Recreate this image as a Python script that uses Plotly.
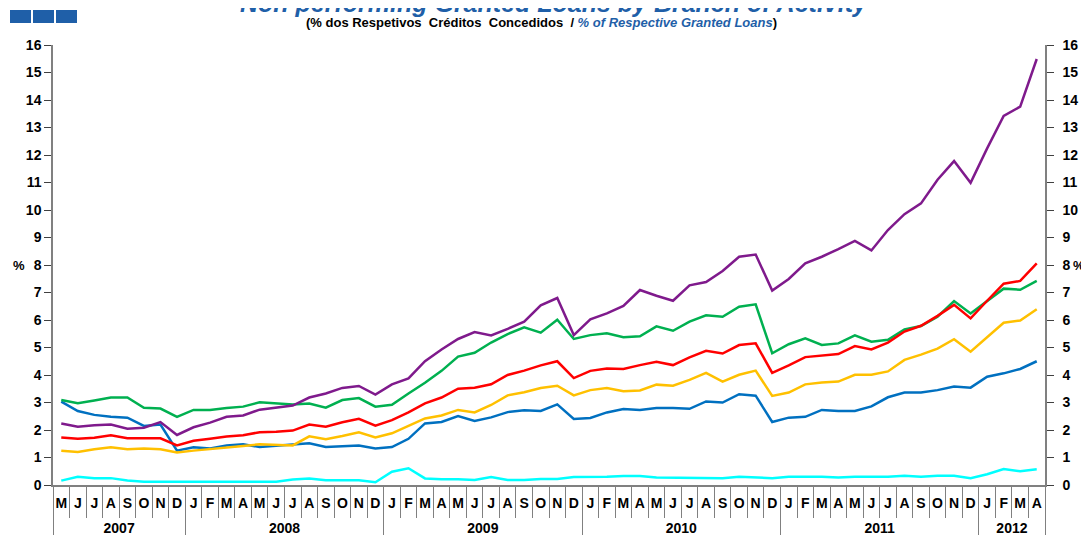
import plotly.graph_objects as go

# Months May 2007 .. April 2012
years = ["2007"] * 8 + ["2008"] * 12 + ["2009"] * 12 + ["2010"] * 12 + ["2011"] * 12 + ["2012"] * 4
months = (["M", "J", "J", "A", "S", "O", "N", "D"]
          + ["J", "F", "M", "A", "M", "J", "J", "A", "S", "O", "N", "D"] * 4
          + ["J", "F", "M", "A"])

purple = [2.24, 2.12, 2.17, 2.2, 2.05, 2.08, 2.29, 1.82, 2.1, 2.27, 2.48, 2.53,
          2.74, 2.82, 2.89, 3.18, 3.33, 3.53, 3.6, 3.29, 3.66, 3.88, 4.5, 4.93,
          5.31, 5.56, 5.44, 5.68, 5.94, 6.53, 6.8, 5.45, 6.02, 6.24, 6.51, 7.09,
          6.88, 6.7, 7.26, 7.38, 7.78, 8.3, 8.38, 7.07, 7.49, 8.06, 8.3, 8.58,
          8.88, 8.53, 9.27, 9.85, 10.24, 11.1, 11.78, 10.99, 12.24, 13.42, 13.76, 15.49]
green = [3.09, 2.97, 3.07, 3.18, 3.18, 2.81, 2.78, 2.48, 2.73, 2.73, 2.8, 2.85,
         3.01, 2.97, 2.93, 2.96, 2.81, 3.09, 3.16, 2.85, 2.92, 3.33, 3.72, 4.15,
         4.67, 4.81, 5.18, 5.49, 5.73, 5.54, 6.01, 5.31, 5.45, 5.52, 5.37, 5.41,
         5.77, 5.61, 5.94, 6.17, 6.12, 6.48, 6.57, 4.79, 5.12, 5.33, 5.09, 5.15,
         5.44, 5.21, 5.28, 5.66, 5.78, 6.12, 6.69, 6.24, 6.68, 7.14, 7.1, 7.42]
red = [1.73, 1.68, 1.72, 1.81, 1.7, 1.7, 1.7, 1.44, 1.61, 1.68, 1.76, 1.81,
       1.92, 1.94, 1.98, 2.2, 2.12, 2.28, 2.41, 2.16, 2.36, 2.64, 2.97, 3.18,
       3.5, 3.54, 3.66, 4.0, 4.16, 4.35, 4.5, 3.89, 4.15, 4.24, 4.22, 4.36,
       4.48, 4.36, 4.64, 4.88, 4.78, 5.09, 5.15, 4.08, 4.35, 4.65, 4.7, 4.76,
       5.05, 4.93, 5.18, 5.58, 5.79, 6.15, 6.55, 6.06, 6.7, 7.32, 7.42, 8.06]
yellow = [1.25, 1.2, 1.3, 1.37, 1.3, 1.33, 1.3, 1.18, 1.25, 1.3, 1.37, 1.42,
          1.48, 1.45, 1.44, 1.77, 1.66, 1.78, 1.92, 1.73, 1.88, 2.15, 2.42, 2.53,
          2.73, 2.64, 2.91, 3.26, 3.37, 3.53, 3.61, 3.26, 3.45, 3.53, 3.41, 3.44,
          3.65, 3.61, 3.82, 4.08, 3.76, 4.01, 4.16, 3.24, 3.36, 3.66, 3.73, 3.76,
          4.01, 4.01, 4.13, 4.55, 4.74, 4.96, 5.3, 4.85, 5.39, 5.9, 5.98, 6.39]
blue = [3.03, 2.69, 2.55, 2.48, 2.45, 2.15, 2.2, 1.25, 1.37, 1.33, 1.44, 1.48,
        1.38, 1.43, 1.49, 1.52, 1.38, 1.42, 1.44, 1.33, 1.38, 1.68, 2.24, 2.29,
        2.51, 2.33, 2.46, 2.65, 2.72, 2.69, 2.93, 2.4, 2.44, 2.64, 2.76, 2.73,
        2.8, 2.8, 2.77, 3.04, 3.0, 3.3, 3.25, 2.29, 2.45, 2.48, 2.73, 2.69,
        2.69, 2.86, 3.19, 3.36, 3.36, 3.45, 3.58, 3.54, 3.94, 4.06, 4.22, 4.5]
cyan = [0.16, 0.3, 0.25, 0.25, 0.16, 0.12, 0.12, 0.12, 0.12, 0.12, 0.12, 0.12,
        0.12, 0.12, 0.2, 0.24, 0.17, 0.17, 0.17, 0.1, 0.48, 0.61, 0.24, 0.21,
        0.21, 0.18, 0.29, 0.18, 0.18, 0.22, 0.22, 0.29, 0.29, 0.3, 0.33, 0.33,
        0.27, 0.27, 0.27, 0.27, 0.25, 0.3, 0.27, 0.25, 0.3, 0.3, 0.3, 0.27,
        0.3, 0.3, 0.3, 0.34, 0.3, 0.34, 0.34, 0.25, 0.39, 0.58, 0.5, 0.57]

n = len(months)
idx = list(range(n))

# year groups: centres for the labels, boundaries for the dividers
year_names = sorted(set(years))
year_centres = [sum(i for i in idx if years[i] == y) / years.count(y) for y in year_names]
year_bounds = [-0.5] + [i - 0.5 for i in idx[1:] if years[i] != years[i - 1]] + [n - 0.5]

BLUE = "#1F5FA8"
AXIS = "#808080"
FONT = "Liberation Sans"
tfont = dict(family=FONT, size=14, color="black", weight="bold")

fig = go.Figure()
for vals, col in [(blue, "#0070C0"), (yellow, "#FFC000"), (green, "#00B050"),
                  (red, "#FF0000"), (purple, "#7F1A8C")]:
    fig.add_trace(go.Scatter(x=idx, y=vals, mode="lines",
                             line=dict(color=col, width=2.5),
                             showlegend=False, hoverinfo="y"))
# cyan series sits on the overlay axes so the right-hand scale and year row get drawn
fig.add_trace(go.Scatter(x=idx, y=cyan, mode="lines", xaxis="x2", yaxis="y2",
                         line=dict(color="#00FFFF", width=2.5),
                         showlegend=False, hoverinfo="y"))

fig.update_layout(
    width=1089, height=535,
    margin=dict(l=45, r=52, t=37, b=58),
    paper_bgcolor="white", plot_bgcolor="white",
    font=dict(family=FONT, color="black"),
    xaxis=dict(
        range=[-0.5, n - 0.5], showgrid=False, zeroline=False, automargin=False,
        showline=True, linecolor=AXIS, linewidth=1.5,
        tickmode="array", tickvals=idx, ticktext=months, ticks="",
        ticklabelstandoff=4, tickfont=tfont,
        minor=dict(tick0=-0.5, dtick=1, ticks="outside", ticklen=31,
                   tickcolor=AXIS, tickwidth=1),
    ),
    xaxis2=dict(
        range=[-0.5, n - 0.5], overlaying="x", anchor="y2", side="bottom",
        showgrid=False, zeroline=False, showline=False, automargin=False,
        tickmode="array", tickvals=year_centres, ticktext=year_names, ticks="",
        ticklabelstandoff=33, tickfont=tfont,
        minor=dict(tickmode="array", tickvals=year_bounds, ticks="outside",
                   ticklen=52, tickcolor=AXIS, tickwidth=1),
    ),
    yaxis=dict(
        range=[0, 16], dtick=1, showgrid=False, zeroline=False, automargin=False,
        showline=True, linecolor=AXIS, linewidth=1.5,
        ticks="outside", ticklen=7, tickcolor="#404040", tickfont=tfont,
    ),
    yaxis2=dict(
        range=[0, 16], dtick=1, overlaying="y", side="right", anchor="x2",
        showgrid=False, zeroline=False, showline=True, linecolor=AXIS,
        linewidth=1.5, ticks="outside", ticklen=7, tickcolor="#404040",
        ticklabelstandoff=6, tickfont=tfont, automargin=False,
    ),
)

annotations = [
    dict(text="<b><i>Non performing Granted Loans by Branch of Activity</i></b>",
         x=0.505, y=1.059, xref="paper", yref="paper", xanchor="center",
         yanchor="bottom", showarrow=False,
         font=dict(family=FONT, size=25, color=BLUE)),
    dict(text="<b>(% dos Respetivos  Créditos  Concedidos  / "
              "<i><span style='color:" + BLUE + "'>% of Respective Granted Loans</span></i>)</b>",
         x=0.492, y=1.051, xref="paper", yref="paper", xanchor="center",
         yanchor="middle", showarrow=False,
         font=dict(family=FONT, size=13, color="black")),
    dict(text="<b>%</b>", x=-0.042, y=8, xref="paper", yref="y",
         showarrow=False, font=dict(family=FONT, size=13, color="black")),
    dict(text="<b>%</b>", x=1.042, y=8, xref="paper", yref="y",
         showarrow=False, font=dict(family=FONT, size=13, color="black")),
]
fig.update_layout(annotations=annotations)

# three blue squares in the top-left corner
shapes = []
for x0 in (10, 33, 56):
    shapes.append(dict(type="rect", xref="paper", yref="paper",
                       x0=(x0 - 53) / 992, x1=(x0 + 21 - 53) / 992,
                       y0=1 + (45 - 23) / 440, y1=1 + (45 - 10) / 440,
                       fillcolor=BLUE, line=dict(width=0)))
fig.update_layout(shapes=shapes)

fig.write_html("out.html")
